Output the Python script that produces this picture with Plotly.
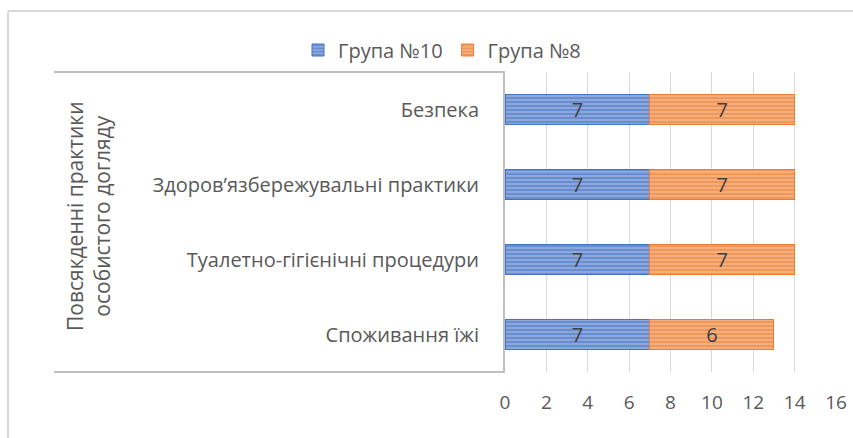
import plotly.graph_objects as go

categories = ["Споживання їжі", "Туалетно-гігієнічні процедури",
              "Здоров’язбережувальні практики", "Безпека"]
group10 = [7, 7, 7, 7]
group8 = [6, 7, 7, 7]
series_names = ["Група №10", "Група №8"]
x_ticks = [0, 2, 4, 6, 8, 10, 12, 14, 16]
group_title = "Повсякденні практики<br>особистого догляду"

W, H = 853, 438
L, R, T, B = 505, 17, 72, 66
pw = W - L - R
ph = H - T - B

def px_x(x):
    return (x - L) / pw

def px_y(y):
    return (H - B - y) / ph

FONT = "Open Sans"
fig = go.Figure()
fig.add_trace(go.Bar(
    y=categories, x=group10, orientation="h", name=series_names[0],
    marker=dict(color="#4472C4", line=dict(color="#4472C4", width=1),
                pattern=dict(shape="-", fgcolor="#4472C4", bgcolor="#8FAADC", size=4, solidity=0.55)),
    text=group10, textposition="inside", insidetextanchor="middle", textangle=0,
    constraintext="none",
    textfont=dict(color="#404040", size=20, family=FONT),
))
fig.add_trace(go.Bar(
    y=categories, x=group8, orientation="h", name=series_names[1],
    marker=dict(color="#ED7D31", line=dict(color="#ED7D31", width=1),
                pattern=dict(shape="-", fgcolor="#ED7D31", bgcolor="#F4B183", size=4, solidity=0.55)),
    text=group8, textposition="inside", insidetextanchor="middle", textangle=0,
    constraintext="none",
    textfont=dict(color="#404040", size=20, family=FONT),
))

shapes = [
    # outer chart border
    dict(type="line", xref="paper", yref="paper", x0=px_x(8), x1=px_x(860), y0=px_y(11), y1=px_y(11),
         line=dict(color="#D9D9D9", width=2)),
    dict(type="line", xref="paper", yref="paper", x0=px_x(8), x1=px_x(8), y0=px_y(11), y1=px_y(445),
         line=dict(color="#D9D9D9", width=2)),
    # category group box
    dict(type="line", xref="paper", yref="paper", x0=px_x(54), x1=0, y0=1, y1=1,
         line=dict(color="#BFBFBF", width=2)),
    dict(type="line", xref="paper", yref="paper", x0=px_x(54), x1=0, y0=0, y1=0,
         line=dict(color="#BFBFBF", width=2)),
]

fig.update_layout(
    width=W, height=H,
    margin=dict(l=L, r=R, t=T, b=B, autoexpand=False),
    paper_bgcolor="white", plot_bgcolor="white",
    barmode="stack", bargap=0.6,
    font=dict(family=FONT, color="#595959", size=20),
    showlegend=True,
    legend=dict(orientation="h", x=px_x(442), y=px_y(50), xanchor="center", yanchor="middle",
                traceorder="normal", font=dict(size=20, color="#595959", family=FONT),
                bgcolor="rgba(0,0,0,0)"),
    xaxis=dict(range=[0, 16], tickvals=x_ticks, showgrid=True, gridcolor="#D9D9D9", gridwidth=1,
               zeroline=False, showline=False, ticks="", ticklabelstandoff=17,
               tickfont=dict(size=19, color="#595959")),
    yaxis=dict(categoryorder="array", categoryarray=categories, showline=True, linecolor="#BFBFBF",
               linewidth=2, ticks="", ticklabelstandoff=20, tickfont=dict(size=20, color="#595959")),
    shapes=shapes,
    annotations=[dict(text=group_title, xref="paper", yref="paper", x=px_x(88), y=px_y(216),
                      textangle=-90, showarrow=False, font=dict(size=21, color="#595959", family=FONT),
                      xanchor="center", yanchor="middle")],
)
fig.write_html("out.html", config={"displayModeBar": False},
               post_script="document.body.style.margin='0';document.body.style.overflow='hidden';")
